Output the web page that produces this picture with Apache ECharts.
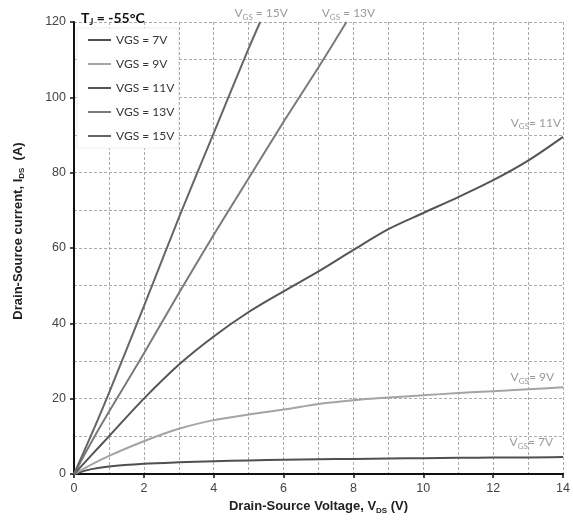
<!DOCTYPE html>
<html>
<head>
<meta charset="utf-8">
<script src="https://cdn.jsdelivr.net/npm/echarts@6/dist/echarts.min.js"></script>
<style>html,body{margin:0;padding:0;background:#fff}#c{width:573px;height:532px}</style>
</head>
<body>
<div id="c"></div>
<script>
// Output characteristics, Tj = -55°C
const vds = [0, 0.5, 1, 2, 3, 4, 5, 6, 7, 8, 9, 10, 11, 12, 13, 14];
const ids7V  = [0, 1.3, 2.0, 2.7, 3.1, 3.4, 3.6, 3.8, 3.9, 4.0, 4.1, 4.2, 4.3, 4.4, 4.4, 4.5];
const ids9V  = [0, 2.5, 4.8, 8.7, 12.0, 14.3, 15.8, 17.1, 18.6, 19.6, 20.3, 20.9, 21.5, 22.0, 22.5, 23.0];
const ids11V = [0, 5.0, 10.0, 20.0, 29.0, 36.5, 43.0, 48.5, 53.8, 59.5, 65.0, 69.3, 73.5, 78.0, 83.2, 89.5];
const vds13V = [0, 0.5, 1, 2, 3, 4, 5, 6, 7, 7.8];
const ids13V = [0, 8.5, 16.5, 32.0, 48.0, 63.5, 78.5, 93.5, 108.0, 120.0];
const vds15V = [0, 0.5, 1, 2, 3, 4, 5, 5.33];
const ids15V = [0, 10.5, 21.5, 44.5, 68.0, 90.5, 113.0, 120.0];
const seriesNames = ['VGS = 7V', 'VGS = 9V', 'VGS = 11V', 'VGS = 13V', 'VGS = 15V'];
const curveLabels = ['= 7V', '= 9V', '= 11V', ' = 13V', ' = 15V'];
const xTicks = [0, 2, 4, 6, 8, 10, 12, 14];
const yTicks = [0, 20, 40, 60, 80, 100, 120];

const zip = (xs, ys) => xs.map((x, i) => [x, ys[i]]);
const colors = ['#505050', '#a4a4a4', '#555555', '#7a7a7a', '#666666'];
const datasets = [zip(vds, ids7V), zip(vds, ids9V), zip(vds, ids11V), zip(vds13V, ids13V), zip(vds15V, ids15V)];
const labelPos = [
  {align: 'right', offset: [-10, -7]},
  {align: 'right', offset: [-9, -2]},
  {align: 'right', offset: [-2, -6]},
  {align: 'center', offset: [2, -1]},
  {align: 'center', offset: [1, -1]}
];
const subRich = {
  a: {fontFamily: 'Lato', fontSize: 12, color: '#9a9a9a', lineHeight: 16, verticalAlign: 'middle'},
  s: {fontFamily: 'Lato', fontSize: 8, color: '#9a9a9a', lineHeight: 11, verticalAlign: 'bottom'}
};

const chart = echarts.init(document.getElementById('c'), null, {renderer: 'canvas'});
const gridStyle = {show: true, lineStyle: {color: '#ababab', type: [3, 2], width: 1}};
chart.setOption({
  animation: false,
  backgroundColor: '#fff',
  title: {
    text: '{b|T}{bs|J}{b| = -55°C}',
    left: 76, top: 4,
    textStyle: {
      rich: {
        b: {fontFamily: 'Lato', fontWeight: 'bold', fontSize: 14, color: '#111', lineHeight: 18, verticalAlign: 'middle'},
        bs: {fontFamily: 'Lato', fontWeight: 'bold', fontSize: 9, color: '#111', lineHeight: 13, verticalAlign: 'bottom'}
      }
    }
  },
  legend: {
    orient: 'vertical',
    left: 77, top: 28,
    padding: [6, 4, 6, 10],
    itemGap: 12,
    itemWidth: 23, itemHeight: 14,
    backgroundColor: '#fff',
    borderColor: '#eeeeee', borderWidth: 1,
    itemStyle: {opacity: 0, borderWidth: 0},
    lineStyle: {width: 2},
    textStyle: {fontFamily: 'Lato', fontSize: 12, color: '#333'},
    data: seriesNames
  },
  grid: {left: 74, right: 8, top: 22, bottom: 58, containLabel: false},
  xAxis: {
    type: 'value', min: 0, max: 14, interval: 2,
    name: '{a|Drain-Source Voltage, V}{s|DS}{a| (V)}',
    nameLocation: 'middle', nameGap: 24,
    nameTextStyle: {
      rich: {
        a: {fontFamily: 'Liberation Sans', fontWeight: 'bold', fontSize: 13, color: '#222', lineHeight: 16, verticalAlign: 'middle'},
        s: {fontFamily: 'Liberation Sans', fontWeight: 'bold', fontSize: 8, color: '#222', lineHeight: 11, verticalAlign: 'bottom'}
      }
    },
    axisLine: {lineStyle: {color: '#111', width: 2}},
    axisTick: {show: true, length: 4, lineStyle: {color: '#111', width: 1.5}},
    axisLabel: {fontFamily: 'Liberation Sans', fontSize: 12.5, color: '#444', margin: 8,
      formatter: v => xTicks.includes(v) ? String(v) : ''},
    splitLine: gridStyle,
    minorTick: {show: false, splitNumber: 2},
    minorSplitLine: gridStyle
  },
  yAxis: {
    type: 'value', min: 0, max: 120, interval: 20,
    name: '{a|Drain-Source current, I}{s|DS}{a|  (A)}',
    nameLocation: 'middle', nameGap: 48,
    nameTextStyle: {
      padding: [0, 0, 0, 34],
      rich: {
        a: {fontFamily: 'Liberation Sans', fontWeight: 'bold', fontSize: 13, color: '#222', lineHeight: 16, verticalAlign: 'middle'},
        s: {fontFamily: 'Liberation Sans', fontWeight: 'bold', fontSize: 8, color: '#222', lineHeight: 11, verticalAlign: 'bottom'}
      }
    },
    axisLine: {show: true, lineStyle: {color: '#111', width: 2}},
    axisTick: {show: true, length: 4, lineStyle: {color: '#111', width: 1.5}},
    axisLabel: {fontFamily: 'Liberation Sans', fontSize: 12.5, color: '#444', margin: 8,
      formatter: v => yTicks.includes(v) ? String(v) : ''},
    splitLine: gridStyle,
    minorTick: {show: false, splitNumber: 2},
    minorSplitLine: gridStyle
  },
  series: seriesNames.map((name, i) => ({
    name: name,
    type: 'line',
    data: datasets[i],
    symbol: 'none',
    smooth: 0.3,
    color: colors[i],
    lineStyle: {color: colors[i], width: 2},
    z: 3,
    endLabel: {
      show: true,
      distance: 0,
      align: labelPos[i].align,
      verticalAlign: 'bottom',
      offset: labelPos[i].offset,
      formatter: '{a|V}{s|GS}{a|' + curveLabels[i] + '}',
      rich: subRich
    }
  }))
});
</script>
</body>
</html>
